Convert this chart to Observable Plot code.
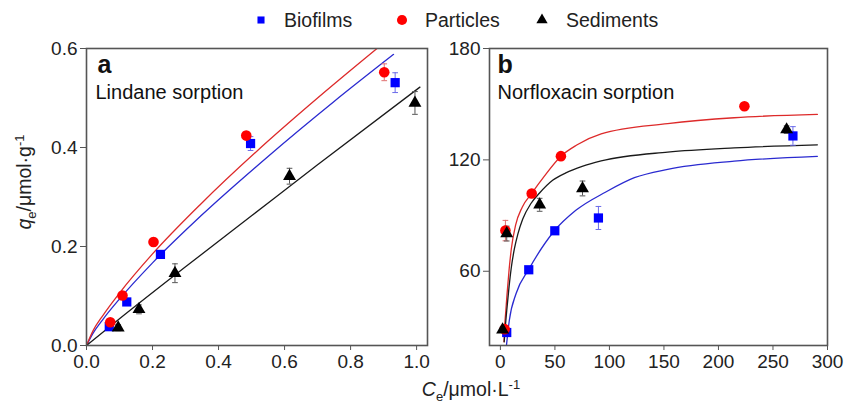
<!DOCTYPE html>
<html><head><meta charset="utf-8">
<script src="https://cdn.jsdelivr.net/npm/d3@7"></script>
<script src="https://cdn.jsdelivr.net/npm/@observablehq/plot@0.6"></script>
<style>
body{margin:0;background:#fff;font-family:"Liberation Sans",Arial,sans-serif;color:#222;}
#wrap{position:relative;width:846px;height:406px;overflow:hidden;background:#fff;}
#pa,#pb{position:absolute;top:36px;}
#pa{left:0;} #pb{left:440px;}
.leg{position:absolute;top:8px;font-size:19.5px;line-height:24px;white-space:nowrap;}
.leg svg{position:absolute;}
#ylab{position:absolute;width:220px;left:-86px;top:170px;text-align:center;font-size:19.5px;line-height:24px;transform:rotate(-90deg);white-space:nowrap;}
#xlab{position:absolute;width:220px;left:361px;top:377px;text-align:center;font-size:19.5px;line-height:24px;white-space:nowrap;}
sub,sup{font-size:13px;line-height:0;}
</style></head><body>
<div id="wrap">
  <div id="legend"></div>
  <div id="pa"></div><div id="pb"></div>
  <div id="ylab"><i>q</i><sub>e</sub>/μmol·g<sup>-1</sup></div>
  <div id="xlab"><i>C</i><sub>e</sub>/μmol·L<sup>-1</sup></div>
</div>
<script>
// ---------- Series names ----------
const seriesNames = ["Biofilms", "Particles", "Sediments"];

// ---------- Panel a: Lindane sorption ----------
const linBioX = [0.069, 0.122, 0.224, 0.497, 0.935];
const linBioY = [0.038, 0.088, 0.184, 0.408, 0.531];
const linBioE = [0.004, 0.006, 0.006, 0.014, 0.020];
const linParX = [0.072, 0.109, 0.203, 0.484, 0.902];
const linParY = [0.047, 0.101, 0.209, 0.424, 0.552];
const linParE = [0.005, 0.006, 0.008, 0.008, 0.017];
const linSedX = [0.096, 0.159, 0.268, 0.615, 0.995];
const linSedY = [0.036, 0.073, 0.146, 0.342, 0.490];
const linSedE = [0.006, 0.009, 0.019, 0.016, 0.023];
// fitted curves
const linBioFitX = [0, 0.02, 0.05, 0.1, 0.2, 0.345, 0.55, 0.75, 0.93];
const linBioFitY = [0, 0.025, 0.053, 0.094, 0.167, 0.261, 0.382, 0.493, 0.588];
const linParFitX = [0, 0.02, 0.05, 0.1, 0.2, 0.345, 0.55, 0.7, 0.88];
const linParFitY = [0, 0.030, 0.061, 0.106, 0.185, 0.285, 0.413, 0.500, 0.600];
const linSedFitX = [0, 0.1, 0.3, 0.5, 0.7, 1.01];
const linSedFitY = [0, 0.054, 0.159, 0.262, 0.365, 0.522];

// ---------- Panel b: Norfloxacin sorption ----------
const norBioX = [5.8, 26, 49.9, 89.9, 268.3];
const norBioY = [27, 60.8, 81.8, 88.7, 132.9];
const norBioE = [1.5, 1.5, 1.5, 6.2, 5];
const norParX = [3.9, 4.6, 28.7, 55.5, 223.8];
const norParY = [28.8, 81.9, 101.9, 122, 148.9];
const norParE = [2, 5.5, 1.5, 1.5, 1.5];
const norSedX = [2, 5.8, 36, 75.3, 262.5];
const norSedY = [28.5, 80.3, 95.8, 104.6, 136.3];
const norSedE = [1.5, 4, 3.5, 4, 2];
const norBioFitX = [5.2, 8.2, 14.4, 25.9, 49.4, 69.2, 96.7, 122.9, 153.4, 214.4, 290.7];
const norBioFitY = [18, 33.6, 48, 60.9, 81.7, 92.8, 102.7, 110.4, 114.9, 119.3, 121.9];
const norParFitX = [3.3, 4, 5, 6, 8, 10, 14, 20, 28.7, 40, 55.5, 70, 92.4, 153.4, 214.4, 290.7];
const norParFitY = [22, 31, 39, 47, 61, 72, 85, 94.5, 102, 111, 122, 128, 134, 139.5, 142.7, 144.5];
const norSedFitX = [3.5, 4.5, 6, 8, 10, 12.8, 16, 20.4, 28, 35.7, 47.9, 60, 75, 92.4, 153.4, 214.4, 290.7];
const norSedFitY = [22, 30, 40, 52, 62, 72, 80, 88, 96.5, 102, 109, 113, 116.5, 119.4, 124.2, 126.5, 128.1];

// ---------- Axis ticks ----------
const aXTicks = [0, 0.2, 0.4, 0.6, 0.8, 1.0];
const aYTicks = [0, 0.2, 0.4, 0.6];
const bXTicks = [0, 50, 100, 150, 200, 250, 300];
const bYTicks = [60, 120, 180];

// ---------- Styles ----------
const style = {
  Biofilms:  {symbol: "square",   fill: "#0000ff", line: "#2a2ad0", err: "#6b6bea", r: 5.2},
  Particles: {symbol: "circle",   fill: "#ff0000", line: "#dd2a2a", err: "#e07070", r: 5.3},
  Sediments: {symbol: "triangle", fill: "#000000", line: "#1a1a1a", err: "#555555", r: 4.8}
};
const FONT = "'Liberation Sans', Arial, sans-serif";

const rows = (xs, ys, es) => xs.map((x, i) => ({x, y: ys[i], e: es ? es[i] : 0}));
const capSymbol = {draw(ctx, size) { const w = Math.sqrt(size) / 2; ctx.moveTo(-w, 0); ctx.lineTo(w, 0); }};

function panel({pts, fits, xDomain, yDomain, xTicks, yTicks, xFmt, yFmt, width, ml, mr, letter, title, letterDx, titleDx}) {
  const marks = [];
  seriesNames.forEach((s) => {
    marks.push(Plot.line(fits[s], {x: "x", y: "y", stroke: style[s].line, strokeWidth: 1.3, curve: "monotone-x", clip: true}));
  });
  seriesNames.forEach((s) => {
    const st = style[s];
    marks.push(Plot.ruleX(pts[s], {x: "x", y1: d => d.y - d.e, y2: d => d.y + d.e, stroke: st.err, strokeWidth: 1}));
    marks.push(Plot.dot(pts[s], {x: "x", y: d => d.y + d.e, symbol: capSymbol, r: 3.2, stroke: st.err, fill: "none", strokeWidth: 1}));
    marks.push(Plot.dot(pts[s], {x: "x", y: d => d.y - d.e, symbol: capSymbol, r: 3.2, stroke: st.err, fill: "none", strokeWidth: 1}));
  });
  seriesNames.forEach((s) => {
    const st = style[s];
    marks.push(Plot.dot(pts[s], {x: "x", y: "y", symbol: st.symbol, r: st.r, fill: st.fill, stroke: "none"}));
  });
  marks.push(Plot.frame({stroke: "#555", strokeWidth: 1.6}));
  marks.push(Plot.axisX({ticks: xTicks, tickFormat: xFmt, tickSize: 5, tickPadding: 4, label: null, stroke: "#555", fill: "#222"}));
  marks.push(Plot.axisY({ticks: yTicks, tickFormat: yFmt, tickSize: 6, tickPadding: 3, label: null, stroke: "#555", fill: "#222"}));
  marks.push(Plot.text([letter], {frameAnchor: "top-left", text: d => d, dx: letterDx, dy: 6.5, fontSize: 25, fontWeight: "bold", fill: "#111", lineAnchor: "top"}));
  marks.push(Plot.text([title], {frameAnchor: "top-left", text: d => d, dx: titleDx, dy: 36, fontSize: 20, fill: "#111", lineAnchor: "top"}));
  return Plot.plot({
    width, height: 340,
    marginTop: 12, marginBottom: 31, marginLeft: ml, marginRight: mr,
    x: {domain: xDomain},
    y: {domain: yDomain},
    style: {fontSize: "19px", fontFamily: FONT, color: "#222", background: "transparent", overflow: "visible"},
    marks
  });
}

const a = panel({
  pts: {Biofilms: rows(linBioX, linBioY, linBioE), Particles: rows(linParX, linParY, linParE), Sediments: rows(linSedX, linSedY, linSedE)},
  fits: {Biofilms: rows(linBioFitX, linBioFitY), Particles: rows(linParFitX, linParFitY), Sediments: rows(linSedFitX, linSedFitY)},
  xDomain: [0, 1.033], yDomain: [0, 0.6], xTicks: aXTicks, yTicks: aYTicks,
  xFmt: d3.format(".1f"), yFmt: d3.format(".1f"),
  width: 440, ml: 86, mr: 13, letter: "a", title: "Lindane sorption", letterDx: 11, titleDx: 9
});
document.getElementById("pa").appendChild(a);

const b = panel({
  pts: {Biofilms: rows(norBioX, norBioY, norBioE), Particles: rows(norParX, norParY, norParE), Sediments: rows(norSedX, norSedY, norSedE)},
  fits: {Biofilms: rows(norBioFitX, norBioFitY), Particles: rows(norParFitX, norParFitY), Sediments: rows(norSedFitX, norSedFitY)},
  xDomain: [-10, 300], yDomain: [20, 180], xTicks: bXTicks, yTicks: bYTicks,
  xFmt: d3.format("d"), yFmt: d3.format("d"),
  width: 406, ml: 49, mr: 19, letter: "b", title: "Norfloxacin sorption", letterDx: 8, titleDx: 8
});
document.getElementById("pb").appendChild(b);

// ---------- Legend ----------
const legendPos = [
  {name: "Biofilms", sx: 261, tx: 284},
  {name: "Particles", sx: 402, tx: 425},
  {name: "Sediments", sx: 542, tx: 566}
];
const leg = document.getElementById("legend");
legendPos.forEach(({name, sx, tx}) => {
  const st = style[name];
  const svg = d3.create("svg").attr("width", 16).attr("height", 16)
    .style("position", "absolute").style("left", (sx - 8) + "px").style("top", "12px");
  const path = d3.symbol().type(st.symbol === "square" ? d3.symbolSquare : st.symbol === "circle" ? d3.symbolCircle : d3.symbolTriangle)
    .size(st.symbol === "square" ? 50 : st.symbol === "circle" ? 80 : 55);
  svg.append("path").attr("d", path()).attr("transform", "translate(8,8)").attr("fill", st.fill);
  leg.appendChild(svg.node());
  const t = document.createElement("div");
  t.className = "leg"; t.style.left = tx + "px"; t.textContent = name;
  leg.appendChild(t);
});
</script>
</body></html>
